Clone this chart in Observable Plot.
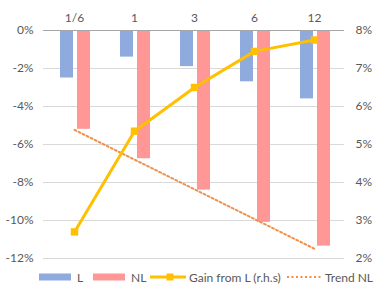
<!DOCTYPE html>
<html>
<head>
<meta charset="utf-8">
<script src="https://cdn.jsdelivr.net/npm/d3@7"></script>
<script src="https://cdn.jsdelivr.net/npm/@observablehq/plot@0.6"></script>
<style>
  body { margin: 0; background: #fff; font-family: Lato, "Open Sans", sans-serif; }
  #chart { width: 378px; height: 303px; position: relative; }
  .legend { position: absolute; top: 266px; left: 0; width: 378px; height: 22px; font-size: 12px; color: #595959; white-space: nowrap; }
  .item { position: absolute; top: 0; height: 22px; display: flex; align-items: center; }
  .item svg { margin-right: 6px; display: block; flex-shrink: 0; }
</style>
</head>
<body>
<div id="chart"></div>
<script>
const categories = ["1/6", "1", "3", "6", "12"];
const L = [-2.5, -1.4, -1.9, -2.7, -3.6];
const NL = [-5.2, -6.75, -8.4, -10.1, -11.35];
const gain = [2.7, 5.35, 6.5, 7.45, 7.75];
const leftTicks = [0, -2, -4, -6, -8, -10, -12];
const rightTicks = [8, 7, 6, 5, 4, 3, 2];

const colL = "#8FAADC", colNL = "#FF9797", colGain = "#FFC000", colTrend = "#F0904A";

// right axis mapped onto left scale: 8% -> 0, 2% -> -12%
const toLeft = g => 2 * (g - 8);

// linear trend of NL (Excel style: x = 1..n)
const xs = NL.map((_, i) => i + 1);
const mx = d3.mean(xs), my = d3.mean(NL);
const slope = d3.sum(xs.map((x, i) => (x - mx) * (NL[i] - my))) / d3.sum(xs.map(x => (x - mx) ** 2));
const intercept = my - slope * mx;

const data = categories.map((c, i) => ({
  cat: c, L: L[i], NL: NL[i], gain: toLeft(gain[i]), trend: intercept + slope * (i + 1)
}));

const plot = Plot.plot({
  width: 378,
  height: 268,
  marginTop: 30,
  marginBottom: 10,
  marginLeft: 43,
  marginRight: 34,
  style: { fontFamily: "Lato, 'Open Sans', sans-serif", fontSize: "12px", color: "#595959", background: "#fff" },
  x: { domain: categories, padding: 0, axis: null },
  y: { domain: [-12, 0], axis: null },
  marks: [
    Plot.gridY(leftTicks.filter(d => d !== 0), { stroke: "#D9D9D9", strokeOpacity: 1 }),
    Plot.barY(data, { x: "cat", y: "L", fill: colL, insetLeft: 16, insetRight: 31 }),
    Plot.barY(data, { x: "cat", y: "NL", fill: colNL, insetLeft: 33, insetRight: 14 }),
    Plot.ruleY([0], { stroke: "#A6A6A6", strokeWidth: 1 }),
    Plot.lineY(data, { x: "cat", y: "trend", stroke: colTrend, strokeWidth: 2, strokeDasharray: "2 2.5" }),
    Plot.lineY(data, { x: "cat", y: "gain", stroke: colGain, strokeWidth: 3 }),
    Plot.dot(data, { x: "cat", y: "gain", fill: colGain, symbol: "square", r: 4.2 }),
    Plot.axisX({ anchor: "top", tickSize: 0, tickPadding: 9, label: null, fontSize: 12 }),
    Plot.axisY({ anchor: "left", ticks: leftTicks, tickSize: 0, tickPadding: 10, tickFormat: d => `${d}%`, label: null }),
    Plot.axisY({ anchor: "right", ticks: rightTicks.map(toLeft), tickSize: 0, tickPadding: 11, tickFormat: d => `${8 + d / 2}%`, label: null })
  ]
});

const chart = document.getElementById("chart");
chart.appendChild(plot);

const legend = document.createElement("div");
legend.className = "legend";
legend.innerHTML = `
  <div class="item" style="left:39px"><svg width="32" height="8"><rect width="32" height="7" y="0.5" fill="${colL}"/></svg><span>L</span></div>
  <div class="item" style="left:93px"><svg width="32" height="8"><rect width="32" height="7" y="0.5" fill="${colNL}"/></svg><span>NL</span></div>
  <div class="item" style="left:150px"><svg width="36" height="10"><line x1="0" x2="36" y1="5" y2="5" stroke="${colGain}" stroke-width="3"/><rect x="16.5" y="1.5" width="7" height="7" fill="${colGain}"/></svg><span style="margin-left:-3px">Gain from L (r.h.s)</span></div>
  <div class="item" style="left:287px"><svg width="34" height="10"><line x1="0" x2="34" y1="5" y2="5" stroke="${colTrend}" stroke-width="2" stroke-dasharray="2 2.5"/></svg><span style="margin-left:-2px">Trend NL</span></div>
`;
chart.appendChild(legend);
</script>
</body>
</html>
